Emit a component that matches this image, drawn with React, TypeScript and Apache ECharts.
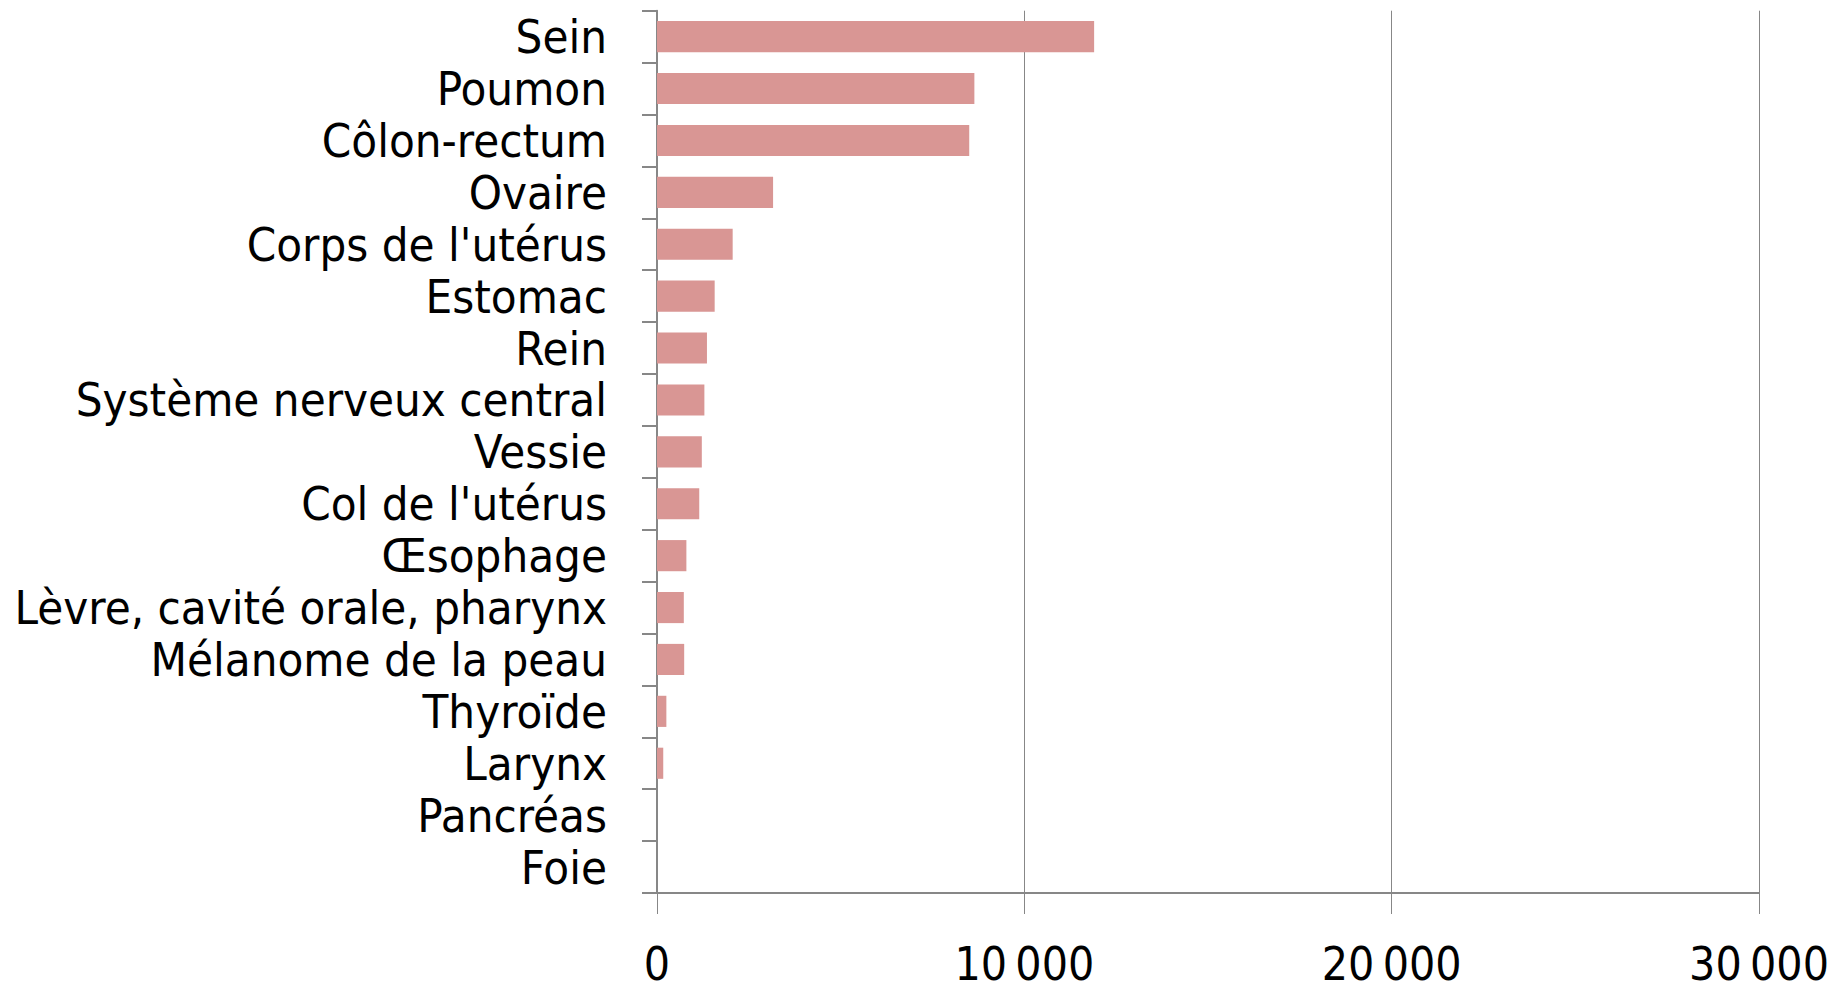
import React, { useEffect, useRef } from "react";
import * as echarts from "echarts";

const categories = [
  "Sein",
  "Poumon",
  "Côlon-rectum",
  "Ovaire",
  "Corps de l'utérus",
  "Estomac",
  "Rein",
  "Système nerveux central",
  "Vessie",
  "Col de l'utérus",
  "Œsophage",
  "Lèvre, cavité orale, pharynx",
  "Mélanome de la peau",
  "Thyroïde",
  "Larynx",
  "Pancréas",
  "Foie",
];

const values = [11900, 8640, 8500, 3160, 2060, 1570, 1360, 1290, 1220, 1150, 800, 730, 740, 255, 170, 0, 0];

const xTicks = [0, 10000, 20000, 30000];
const xTickLabels = ["0", "10\u202f000", "20\u202f000", "30\u202f000"];

const FONT = "'Liberation Sans Narrow', 'DejaVu Sans Condensed', Lato, sans-serif";
const AXIS_COLOR = "#878787";

export default function App() {
  const ref = useRef<HTMLDivElement>(null);
  useEffect(() => {
    if (!ref.current) return;
    const chart = echarts.init(ref.current, undefined, { renderer: "svg" });
    chart.setOption({
      animation: false,
      backgroundColor: "#ffffff",
      grid: { left: 657, right: 83, top: 10.7, bottom: 100, containLabel: false },
      xAxis: {
        type: "value",
        min: xTicks[0],
        max: xTicks[xTicks.length - 1],
        interval: xTicks[1] - xTicks[0],
        axisLine: { show: true, lineStyle: { color: AXIS_COLOR, width: 2 } },
        axisTick: { show: true, length: 21, lineStyle: { color: AXIS_COLOR, width: 1 } },
        splitLine: { show: true, lineStyle: { color: AXIS_COLOR, width: 1 } },
        axisLabel: {
          margin: 48,
          fontFamily: FONT,
          fontSize: 46,
          lineHeight: 46,
          color: "#000",
          formatter: (v: number) => {
            const i = xTicks.indexOf(v);
            return i >= 0 ? xTickLabels[i] : String(v);
          },
        },
      },
      yAxis: {
        type: "category",
        inverse: true,
        data: categories,
        axisLine: { show: true, lineStyle: { color: AXIS_COLOR, width: 2 } },
        axisTick: { show: true, length: 15, lineStyle: { color: AXIS_COLOR, width: 2 } },
        axisLabel: {
          interval: 0,
          margin: 50,
          fontFamily: FONT,
          fontSize: 47,
          color: "#000",
        },
      },
      series: [
        {
          type: "bar",
          data: values,
          barCategoryGap: "40%",
          itemStyle: { color: "#D99694" },
        },
      ],
    });
    return () => chart.dispose();
  }, []);
  return (
    <div
      ref={ref}
      style={{ position: "fixed", left: 0, top: 0, width: 1842, height: 993, background: "#fff" }}
    />
  );
}
